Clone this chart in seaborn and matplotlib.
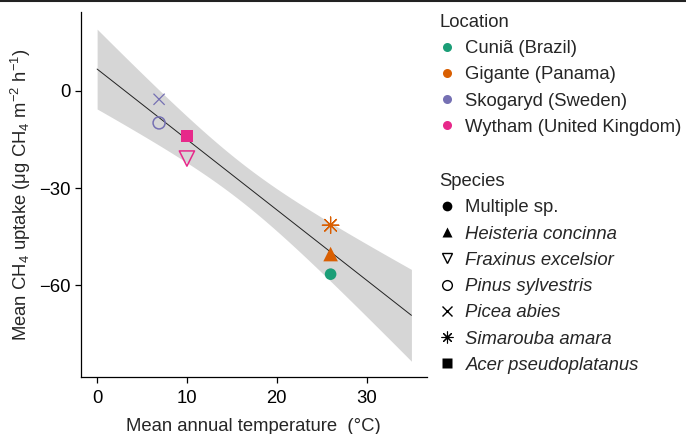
import numpy as np
import pandas as pd
import matplotlib.pyplot as plt
from matplotlib.lines import Line2D
import seaborn as sns

# Values
temperature = [26.0, 26.0, 26.0, 6.9, 6.9, 10.0, 10.0]
uptake = [-56.6, -50.4, -41.5, -9.9, -2.6, -20.9, -13.9]
location = ["Cuniã (Brazil)", "Gigante (Panama)", "Gigante (Panama)",
            "Skogaryd (Sweden)", "Skogaryd (Sweden)",
            "Wytham (United Kingdom)", "Wytham (United Kingdom)"]
species = ["Multiple sp.", "Heisteria concinna", "Simarouba amara",
           "Pinus sylvestris", "Picea abies",
           "Fraxinus excelsior", "Acer pseudoplatanus"]

location_order = ["Cuniã (Brazil)", "Gigante (Panama)",
                  "Skogaryd (Sweden)", "Wytham (United Kingdom)"]
species_order = ["Multiple sp.", "Heisteria concinna", "Fraxinus excelsior",
                 "Pinus sylvestris", "Picea abies", "Simarouba amara",
                 "Acer pseudoplatanus"]

df = pd.DataFrame({"temp": temperature, "uptake": uptake,
                   "location": location, "species": species})

FS = 13.3
sns.set_style("ticks")
plt.rcParams["font.family"] = ["Liberation Sans", "DejaVu Sans"]
plt.rcParams["mathtext.default"] = "regular"
plt.rcParams["font.size"] = FS

palette = dict(zip(location_order, sns.color_palette("Dark2", 4)))

# marker, fill style ("filled", "open", "line"), size
marker_spec = {
    "Multiple sp.": ("o", "filled", 70),
    "Heisteria concinna": ("^", "filled", 110),
    "Fraxinus excelsior": ("v", "open", 120),
    "Pinus sylvestris": ("o", "open", 75),
    "Picea abies": ("x", "line", 65),
    "Simarouba amara": ((8, 2, 0), "line", 140),
    "Acer pseudoplatanus": ("s", "filled", 80),
}

fig = plt.figure(figsize=(6.86, 4.34), dpi=100)
ax = fig.add_axes([0.118, 0.131, 0.504, 0.841])

# linear fit with analytic 95% confidence band
x = np.array(temperature)
y = np.array(uptake)
n = len(x)
slope, intercept = np.polyfit(x, y, 1)
xs = np.linspace(0, 35, 200)
fit = intercept + slope * xs
resid = y - (intercept + slope * x)
s = np.sqrt(np.sum(resid ** 2) / (n - 2))
sxx = np.sum((x - x.mean()) ** 2)
se = s * np.sqrt(1 / n + (xs - x.mean()) ** 2 / sxx)
tcrit = 2.5706  # t(0.975, df=5)
ax.fill_between(xs, fit - tcrit * se, fit + tcrit * se, color="#D6D6D6", lw=0, zorder=1)
sns.lineplot(x=xs, y=fit, color="#222222", lw=0.7, ax=ax, zorder=2)

for sp in species_order:
    sub = df[df["species"] == sp]
    m, style, size = marker_spec[sp]
    sns.scatterplot(data=sub, x="temp", y="uptake", hue="location", palette=palette,
                    marker=m, s=size, legend=False, ax=ax, zorder=3)
    coll = ax.collections[-1]
    cols = [palette[l] for l in sub["location"]]
    if style == "filled":
        coll.set_facecolor(cols)
        coll.set_edgecolor("none")
    else:
        coll.set_facecolor("none")
        coll.set_edgecolor(cols)
        coll.set_linewidth(1.1 if style == "open" else 0.9)

ax.set_xlim(-1.8, 36.7)
ax.set_ylim(-88.4, 24.3)
ax.set_xticks([0, 10, 20, 30])
ax.set_yticks([0, -30, -60])
ax.tick_params(length=4, width=0.9, colors="black", labelsize=FS)
ax.tick_params(axis="x", pad=5.5)
for side in ["top", "right"]:
    ax.spines[side].set_visible(False)
for side in ["left", "bottom"]:
    ax.spines[side].set_linewidth(0.9)
    ax.spines[side].set_color("black")
ax.set_xlabel("Mean annual temperature  (°C)", fontsize=FS, labelpad=7.5)
ax.set_ylabel("Mean CH$_4$ uptake (μg CH$_4$ m$^{-2}$ h$^{-1}$)", fontsize=FS)

# legends
loc_handles = [Line2D([], [], ls="", marker="o", ms=6.5, mfc=palette[l], mec="none")
               for l in location_order]
leg1 = fig.legend(loc_handles, location_order, title="Location", loc="upper left",
                  bbox_to_anchor=(0.63, 0.985), frameon=False, alignment="left",
                  fontsize=FS, title_fontsize=FS, handlelength=0.8,
                  handletextpad=0.6, labelspacing=0.5, borderaxespad=0)

sp_handles = []
for sp in species_order:
    m, style, size = marker_spec[sp]
    if style == "filled":
        h = Line2D([], [], ls="", marker=m, ms=7, mfc="black", mec="none")
    elif style == "open":
        h = Line2D([], [], ls="", marker=m, ms=7, mfc="none", mec="black", mew=1)
    elif sp == "Simarouba amara":
        h = Line2D([], [], ls="", marker=m, ms=8.5, color="black", mew=0.8)
    else:
        h = Line2D([], [], ls="", marker=m, ms=6.5, color="black", mew=1)
    sp_handles.append(h)
leg2 = fig.legend(sp_handles, species_order, title="Species", loc="upper left",
                  bbox_to_anchor=(0.63, 0.618), frameon=False, alignment="left",
                  fontsize=FS, title_fontsize=FS, handlelength=0.8,
                  handletextpad=0.6, labelspacing=0.5, borderaxespad=0)
for t in leg2.get_texts():
    if t.get_text() != "Multiple sp.":
        t.set_fontstyle("italic")

fig.add_artist(Line2D([0, 1], [0.998, 0.998], color="#222222", lw=1.5,
                      transform=fig.transFigure))

plt.savefig("out.png", dpi=100)
